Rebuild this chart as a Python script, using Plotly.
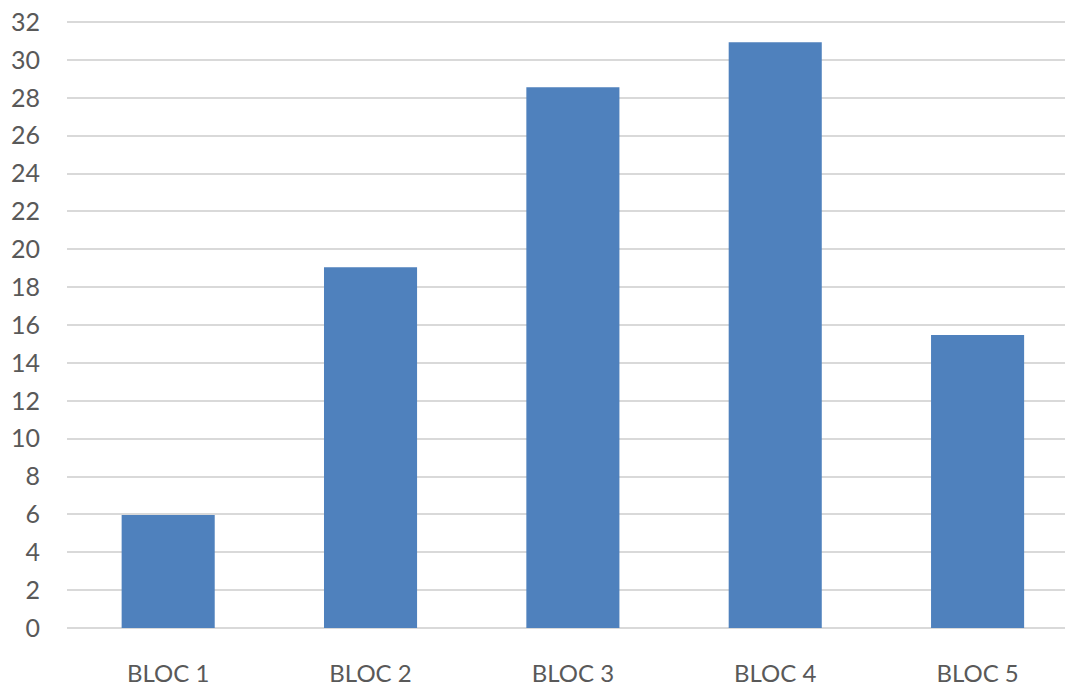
import plotly.graph_objects as go

categories = ["BLOC 1", "BLOC 2", "BLOC 3", "BLOC 4", "BLOC 5"]
values = [5.97, 19.05, 28.56, 30.94, 15.47]
y_ticks = list(range(0, 33, 2))

fig = go.Figure()
fig.add_trace(go.Bar(
    x=list(range(len(categories))),
    y=values,
    marker=dict(color="#4f81bd", line=dict(width=0)),
    width=0.46,
))

xfont = dict(family="Lato, 'Open Sans', sans-serif", size=24, color="#595959")
yfont = dict(family="Lato, 'Open Sans', sans-serif", size=25, color="#595959")
fig.update_layout(
    width=1065, height=686,
    margin=dict(l=67, r=0, t=21, b=58),
    paper_bgcolor="white", plot_bgcolor="white",
    showlegend=False,
    font=xfont,
    xaxis=dict(
        range=[-0.5, 4.432],
        tickmode="array",
        tickvals=list(range(len(categories))),
        ticktext=categories,
        showgrid=False, zeroline=False, showline=False,
        ticks="", ticklabelstandoff=29,
        tickfont=xfont, ticklabeloverflow="allow",
        automargin=False,
    ),
    yaxis=dict(
        range=[0, 32.06],
        tickmode="array",
        tickvals=y_ticks,
        ticktext=[str(v) for v in y_ticks],
        showgrid=True, gridcolor="#d9d9d9", gridwidth=1.5,
        zeroline=True, zerolinecolor="#d9d9d9", zerolinewidth=1.5,
        showline=False, ticks="", ticklabelstandoff=26,
        tickfont=yfont, ticklabeloverflow="allow",
        automargin=False,
    ),
)

fig.write_html(
    "out.html",
    config={"displayModeBar": False},
    post_script="document.body.style.margin='0';document.body.style.overflow='hidden';",
)
